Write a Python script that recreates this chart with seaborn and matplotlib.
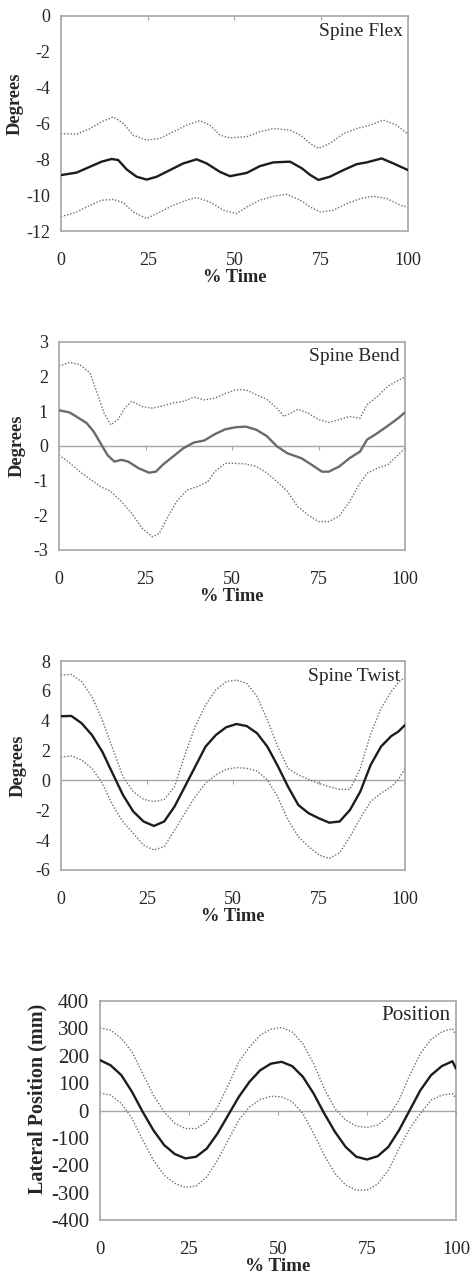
import numpy as np
import pandas as pd
import matplotlib
matplotlib.use("Agg")
import matplotlib.pyplot as plt
import seaborn as sns

# ---- Spine Flex ----
flex_mean_x = [0, 4.5, 8.4, 11.7, 14.6, 16.5, 18.9, 21.8, 24.7, 27.6, 31.4, 35.2, 39.1, 42, 45.8, 48.7,
               53.5, 57.3, 61.2, 66, 69.4, 71.8, 74.2, 77.5, 81.4, 85.2, 88.1, 92.4, 95.8, 100]
flex_mean = [-8.88, -8.74, -8.41, -8.13, -7.98, -8.04, -8.56, -8.97, -9.13, -8.97, -8.6, -8.23, -8.0, -8.23,
             -8.7, -8.94, -8.76, -8.38, -8.17, -8.13, -8.5, -8.87, -9.15, -8.97, -8.6, -8.27, -8.17, -7.95,
             -8.23, -8.6]
flex_upper_x = [0, 4.5, 8.4, 11.7, 15.1, 18, 20.8, 24.7, 28.5, 32.4, 36.2, 40, 42.9, 45.8, 48.7, 53.5, 57.3,
                61.2, 66, 69, 71.8, 74.2, 77.5, 81.4, 85.2, 89.1, 92.9, 96.7, 100]
flex_upper = [-6.56, -6.6, -6.28, -5.9, -5.63, -6.0, -6.65, -6.93, -6.83, -6.46, -6.09, -5.84, -6.09, -6.65,
              -6.8, -6.74, -6.46, -6.28, -6.37, -6.65, -7.11, -7.39, -7.11, -6.56, -6.28, -6.09, -5.81, -6.09,
              -6.6]
flex_lower_x = [0, 4.5, 8.4, 11.7, 15.1, 18, 20.8, 24.7, 28.5, 32.4, 36.2, 39.1, 42.9, 46.8, 50.6, 53.5, 57.3,
                61.2, 65, 69, 71.8, 74.7, 78.5, 82.4, 86.2, 90, 94, 97.7, 100]
flex_lower = [-11.2, -10.94, -10.56, -10.28, -10.24, -10.42, -10.94, -11.3, -10.94, -10.56, -10.28, -10.13,
              -10.38, -10.84, -11.03, -10.66, -10.28, -10.06, -9.95, -10.28, -10.66, -10.94, -10.84, -10.47,
              -10.19, -10.06, -10.19, -10.56, -10.66]

# ---- Spine Bend ----
bend_mean_x = [0, 3, 5, 8, 10, 12, 14, 16, 18, 20, 23, 26, 28, 30, 33, 36, 39, 42, 45, 48, 51, 54, 57, 60,
               63, 66, 70, 73, 76, 78, 81, 84, 87, 89, 92, 95, 98, 100]
bend_mean = [1.03, 0.97, 0.85, 0.66, 0.42, 0.08, -0.26, -0.45, -0.4, -0.45, -0.64, -0.77, -0.74, -0.54, -0.3,
             -0.06, 0.1, 0.16, 0.34, 0.48, 0.54, 0.56, 0.47, 0.29, -0.01, -0.21, -0.35, -0.54, -0.74, -0.74,
             -0.59, -0.35, -0.16, 0.18, 0.37, 0.58, 0.8, 0.97]
bend_upper_x = [0, 3, 6, 9, 11, 13, 15, 17, 19, 21, 24, 27, 30, 33, 36, 39, 42, 45, 48, 51, 54, 57, 60, 63,
                65, 67, 69, 72, 75, 78, 81, 84, 87, 89, 92, 95, 98, 100]
bend_upper = [2.3, 2.41, 2.35, 2.1, 1.53, 0.95, 0.61, 0.76, 1.09, 1.29, 1.14, 1.09, 1.16, 1.24, 1.29, 1.41,
              1.33, 1.38, 1.51, 1.62, 1.62, 1.48, 1.35, 1.09, 0.85, 0.95, 1.06, 0.95, 0.76, 0.68, 0.76, 0.85,
              0.8, 1.19, 1.43, 1.72, 1.89, 1.99]
bend_lower_x = [0, 3, 6, 9, 12, 15, 18, 21, 24, 27, 29, 31, 34, 37, 40, 43, 45, 48, 51, 54, 57, 60, 63, 66,
                69, 72, 75, 78, 81, 84, 87, 89, 92, 95, 98, 100]
bend_lower = [-0.26, -0.48, -0.74, -0.96, -1.17, -1.31, -1.6, -1.94, -2.37, -2.62, -2.52, -2.13, -1.6, -1.27,
              -1.17, -1.03, -0.74, -0.5, -0.5, -0.52, -0.59, -0.77, -1.03, -1.31, -1.75, -1.99, -2.18, -2.18,
              -2.02, -1.6, -1.07, -0.79, -0.64, -0.54, -0.26, -0.06]

# ---- Spine Twist ----
twist_x = [0, 3, 6, 9, 12, 15, 18, 21, 24, 27, 30, 33, 36, 39, 42, 45, 48, 51, 54, 57, 60, 63, 66, 69, 72,
           75, 78, 81, 84, 87, 90, 93, 96, 98, 100]
twist_mean = [4.3, 4.32, 3.83, 3.04, 1.93, 0.47, -0.97, -2.08, -2.75, -3.05, -2.75, -1.75, -0.42, 0.92, 2.26,
              3.04, 3.56, 3.78, 3.64, 3.16, 2.26, 0.97, -0.42, -1.65, -2.2, -2.54, -2.83, -2.75, -1.98, -0.75,
              1.03, 2.26, 2.97, 3.26, 3.71]
twist_upper = [7.06, 7.1, 6.61, 5.61, 4.05, 2.15, 0.25, -0.75, -1.27, -1.42, -1.27, -0.42, 1.7, 3.6, 5.05,
               6.06, 6.61, 6.73, 6.5, 5.61, 4.05, 2.26, 0.81, 0.36, 0.07, -0.2, -0.42, -0.6, -0.6, 0.8, 3.1,
               4.8, 5.95, 6.55, 6.9]
twist_lower = [1.55, 1.64, 1.37, 0.81, -0.19, -1.65, -2.77, -3.55, -4.33, -4.66, -4.44, -3.33, -2.2, -1.09,
               -0.19, 0.36, 0.74, 0.86, 0.81, 0.63, 0.03, -1.09, -2.65, -3.77, -4.44, -5.0, -5.22, -4.84, -3.77,
               -2.54, -1.42, -0.86, -0.42, 0.03, 0.81]

# ---- Position ----
pos_x = [0, 3, 6, 9, 12, 15, 18, 21, 24, 27, 30, 33, 36, 39, 42, 45, 48, 51, 54, 57, 60, 63, 66, 69, 72, 75,
         78, 81, 84, 87, 90, 93, 96, 99, 100]
pos_mean = [184, 165, 129, 68, -5, -72, -126, -159, -175, -169, -139, -84, -17, 50, 105, 147, 171, 178, 162,
            123, 62, -11, -78, -133, -169, -179, -167, -133, -72, 1, 74, 129, 162, 180, 153]
pos_upper = [302, 293, 263, 214, 135, 56, -5, -47, -66, -66, -41, 13, 92, 178, 232, 275, 297, 303, 287, 244,
             171, 80, 7, -35, -57, -62, -53, -23, 38, 129, 208, 260, 287, 299, 275]
pos_lower = [64, 56, 26, -29, -108, -181, -236, -266, -281, -276, -242, -181, -108, -35, 13, 40, 52, 50, 32,
             -11, -84, -163, -230, -272, -291, -291, -269, -218, -139, -66, -11, 38, 56, 62, 44]

panel_titles = ["Spine Flex", "Spine Bend", "Spine Twist", "Position"]
panel_ylabels = ["Degrees", "Degrees", "Degrees", "Lateral Position (mm)"]
panel_yticks = [np.arange(-12, 1, 2), np.arange(-3, 4, 1), np.arange(-6, 9, 2), np.arange(-400, 401, 100)]
x_ticks = [0, 25, 50, 75, 100]

sns.set_style("white")
plt.rcParams["font.family"] = ["Liberation Serif", "DejaVu Serif"]
plt.rcParams["axes.unicode_minus"] = False

FRAME = "#a6a6a6"
DOT = "#6e6e6e"

fig = plt.figure(figsize=(4.74, 12.84), dpi=100)
rects = [
    [61 / 474, 1 - 231 / 1284, 347 / 474, 215 / 1284],
    [59 / 474, 1 - 550 / 1284, 346 / 474, 208 / 1284],
    [61 / 474, 1 - 870 / 1284, 344 / 474, 209 / 1284],
    [100 / 474, 1 - 1220 / 1284, 356 / 474, 219 / 1284],
]
label_xy = [(-0.107, 0.59), (-0.095, 0.5), (-0.10, 0.5), (-0.147, 0.553)]
title_y = [0.926, 0.928, 0.928, 0.936]
# font sizes: y ticks, x ticks, y label, x label, title
sizes = [
    (13, 13, 13.3, 13.3, 14),
    (13, 13, 13.3, 13.3, 14),
    (13, 13, 13.3, 13.3, 14),
    (15, 13.5, 14.5, 13.8, 15.2),
]

series = [
    [(flex_upper_x, flex_upper), (flex_lower_x, flex_lower), (flex_mean_x, flex_mean)],
    [(bend_upper_x, bend_upper), (bend_lower_x, bend_lower), (bend_mean_x, bend_mean)],
    [(twist_x, twist_upper), (twist_x, twist_lower), (twist_x, twist_mean)],
    [(pos_x, pos_upper), (pos_x, pos_lower), (pos_x, pos_mean)],
]

for i, rect in enumerate(rects):
    ax = fig.add_axes(rect)
    yt = panel_yticks[i]
    ymin, ymax = yt[0], yt[-1]
    up, lo, mn = series[i]
    ys_, xs_, yl_, xl_, tt_ = sizes[i]

    if i > 0:
        ax.axhline(0, color=FRAME, lw=1.0, zorder=1)

    for xs, ys in (up, lo):
        sns.lineplot(x=xs, y=ys, ax=ax, color=DOT, lw=1.0, linestyle=(0, (1, 1.3)), zorder=2)
    mean_color = "#6a6a6a" if i == 1 else "#1c1c1c"
    sns.lineplot(x=mn[0], y=mn[1], ax=ax, color=mean_color, lw=1.7, zorder=3)

    ax.set_xlim(0, 100)
    ax.set_ylim(ymin, ymax)
    ax.set_xticks(x_ticks)
    ax.set_yticks(yt)
    ax.set_yticklabels([str(int(v)) for v in yt])
    ax.tick_params(axis="x", length=0, pad=15, labelsize=xs_)
    ax.tick_params(axis="y", length=2, width=0.8, color=FRAME, pad=6, labelsize=ys_, direction="out")
    for sp in ax.spines.values():
        sp.set_color(FRAME)
        sp.set_linewidth(1.2)

    ax.set_xlabel("% Time", fontsize=xl_, fontweight="bold", labelpad=0)
    ax.set_ylabel(panel_ylabels[i], fontsize=yl_, fontweight="bold")
    ax.yaxis.set_label_coords(*label_xy[i])
    ax.text(0.985, title_y[i], panel_titles[i], transform=ax.transAxes,
            ha="right", va="center", fontsize=tt_)

    # small category tick marks where the x axis crosses zero
    if i == 0:
        sec = ax.secondary_xaxis("top")
        sec.tick_params(axis="x", direction="in", length=3, width=0.8, color=FRAME,
                        labeltop=False)
    else:
        loc = (0 - ymin) / (ymax - ymin)
        sec = ax.secondary_xaxis(loc)
        sec.set_alignment("bottom")
        sec.tick_params(axis="x", direction="out", length=3, width=0.8, color=FRAME,
                        labelbottom=False, labeltop=False)
    sec.set_xticks(x_ticks)
    for sp in sec.spines.values():
        sp.set_visible(False)

fig.savefig("out.png", dpi=100)
